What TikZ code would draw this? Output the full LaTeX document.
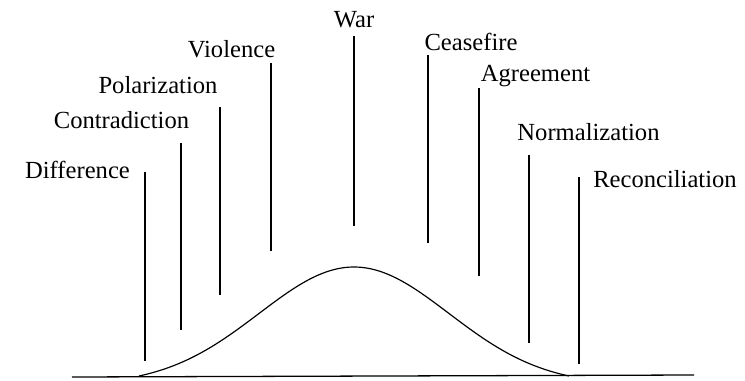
\documentclass[tikz,border=0pt]{standalone}
\usepackage{fontspec}
\setmainfont{Liberation Serif}
\tikzset{
  stage/.style={anchor=base, inner sep=0pt, font=\fontsize{21}{25}\selectfont},
  marker/.style={line width=0.9pt},
}
\begin{document}
\begin{tikzpicture}[x=0.03cm, y=-0.03cm]
  \useasboundingbox (0,0) rectangle (745,380);

  % Time axis
  \coordinate (axl) at (72,377);
  \coordinate (axr) at (694,375);
  \draw[line width=1.1pt] (axl) -- (axr);

  % Conflict curve
  \draw[line width=1pt, smooth, samples=90, domain=-2.263:2.263]
    plot ({354+95*\x},{376-118.1*(exp(-\x*\x/2)-0.0772)});

  % Stages and their marker lines
  \foreach \n/\lx/\ly/\mx/\mt/\mb/\txt in {
      diff/77.5/178/145/172/361/Difference,
      contr/121.5/128/181/143/330/Contradiction,
      polar/158/93/220/107/295/Polarization,
      viol/231.5/57/271/63/251/Violence,
      war/354/27/354/36/226/War,
      cease/471/50/428/55/243/Ceasefire,
      agree/535.5/81/479/88/276/Agreement,
      norm/588.5/140/529/155/343/Normalization,
      recon/665/187/579/177/364/Reconciliation} {
    \node[stage] (\n) at (\lx,\ly) {\txt};
    \coordinate (\n-top) at (\mx,\mt);
    \coordinate (\n-bot) at (\mx,\mb);
    \draw[marker] (\n-top) -- (\n-bot);
  }
\end{tikzpicture}
\end{document}
